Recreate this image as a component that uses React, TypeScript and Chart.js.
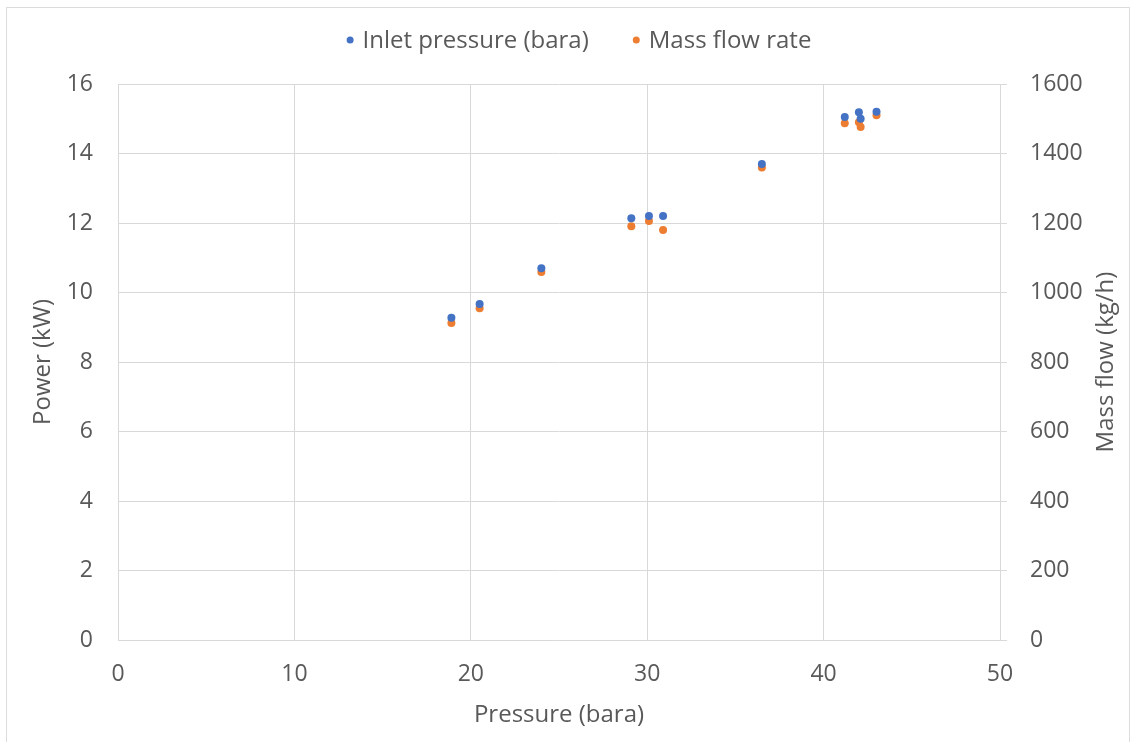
import React, { useEffect, useRef } from "react";
import { Chart, registerables } from "chart.js";

Chart.register(...registerables);

// Measured operating points
const pressureBara = [18.9, 20.5, 24.0, 29.1, 30.1, 30.9, 36.5, 41.2, 42.0, 42.1, 43.0];
const powerKw = [9.27, 9.67, 10.7, 12.14, 12.2, 12.2, 13.7, 15.05, 15.19, 15.0, 15.2];
const massFlowKgH = [912, 955, 1059, 1191, 1206, 1180, 1360, 1487, 1490, 1476, 1510];

const seriesLabels = ["Inlet pressure (bara)", "Mass flow rate"];
const seriesColors = ["#4472C4", "#ED7D31"];

const xRange = [0, 50, 10];
const powerRange = [0, 16, 2];
const massRange = [0, 1600, 200];

const xTitle = "Pressure (bara)";
const powerTitle = "Power (kW)";
const massTitle = "Mass flow (kg/h)";

const FONT = "'Open Sans'";
const TEXT = "#595959";
const GRID = "#d9d9d9";

// Legend row above the plot area, plus the right-hand axis title read bottom-to-top
const decorations = {
  id: "decorations",
  afterDraw(chart: any) {
    const ctx = chart.ctx as CanvasRenderingContext2D;
    ctx.save();
    ctx.font = `24px ${FONT}`;
    ctx.textBaseline = "middle";
    const r = 3.5;
    const gap = 9;
    const itemGap = 44;
    const items = chart.data.datasets.map((ds: any) => ({
      label: ds.label as string,
      color: ds.backgroundColor as string,
      w: ctx.measureText(ds.label).width,
    }));
    const total =
      items.reduce((s: number, it: any) => s + r * 2 + gap + it.w, 0) +
      itemGap * (items.length - 1);
    let x = 579 - total / 2;
    const y = 40;
    for (const it of items) {
      ctx.fillStyle = it.color;
      ctx.beginPath();
      ctx.arc(x + r, y, r, 0, Math.PI * 2);
      ctx.fill();
      ctx.fillStyle = TEXT;
      ctx.fillText(it.label, x + r * 2 + gap, y + 1);
      x += r * 2 + gap + it.w + itemGap;
    }

    const area = chart.chartArea;
    const right = chart.scales.y2;
    ctx.translate(right.right - 26, (area.top + area.bottom) / 2);
    ctx.rotate(-Math.PI / 2);
    ctx.textAlign = "center";
    ctx.fillStyle = TEXT;
    ctx.fillText(massTitle, 0, 0);
    ctx.restore();
  },
};

export default function App() {
  const ref = useRef<HTMLCanvasElement | null>(null);

  useEffect(() => {
    if (!ref.current) return;
    const toPoints = (ys: number[]) => pressureBara.map((x, i) => ({ x, y: ys[i] }));
    const tickFont = { family: FONT, size: 23 };
    const chart = new Chart(ref.current, {
      type: "scatter",
      data: {
        datasets: [
          {
            label: seriesLabels[0],
            data: toPoints(powerKw),
            yAxisID: "y",
            backgroundColor: seriesColors[0],
            borderColor: seriesColors[0],
            pointRadius: 4,
            pointBorderWidth: 0,
          },
          {
            label: seriesLabels[1],
            data: toPoints(massFlowKgH),
            yAxisID: "y2",
            backgroundColor: seriesColors[1],
            borderColor: seriesColors[1],
            pointRadius: 4,
            pointBorderWidth: 0,
          },
        ],
      },
      options: {
        responsive: false,
        animation: false,
        devicePixelRatio: 1,
        layout: { padding: { top: 84, left: 0, right: 0, bottom: 0 } },
        plugins: {
          legend: { display: false },
          tooltip: { enabled: false },
        },
        scales: {
          x: {
            type: "linear",
            min: xRange[0],
            max: xRange[1],
            ticks: { stepSize: xRange[2], color: TEXT, font: tickFont, padding: 21 },
            grid: { color: GRID, drawTicks: false },
            border: { color: GRID },
            title: {
              display: true,
              text: xTitle,
              color: TEXT,
              font: { family: FONT, size: 24 },
              padding: { top: 0, bottom: 12 },
            },
            afterFit(scale: any) {
              scale.height = 102;
            },
          },
          y: {
            type: "linear",
            position: "left",
            min: powerRange[0],
            max: powerRange[1],
            ticks: { stepSize: powerRange[2], color: TEXT, font: tickFont, padding: 25 },
            grid: { color: GRID, drawTicks: false },
            border: { color: GRID },
            title: {
              display: true,
              text: powerTitle,
              color: TEXT,
              font: { family: FONT, size: 24 },
              padding: { top: 29, bottom: 0 },
            },
            afterFit(scale: any) {
              scale.width = 118;
            },
          },
          y2: {
            type: "linear",
            position: "right",
            min: massRange[0],
            max: massRange[1],
            ticks: {
              stepSize: massRange[2],
              color: TEXT,
              font: tickFont,
              padding: 23,
              callback: (v: any) => String(v),
            },
            grid: { color: GRID, drawOnChartArea: false, drawTicks: true, tickLength: 7 },
            border: { color: GRID },
            title: { display: false },
            afterFit(scale: any) {
              scale.width = 132;
            },
          },
        },
      },
      plugins: [decorations],
    } as any);
    return () => chart.destroy();
  }, []);

  return (
    <div style={{ position: "fixed", left: 0, top: 0, width: 1132, height: 742, background: "#fff" }}>
      <canvas ref={ref} width={1132} height={742} style={{ display: "block" }} />
      <div
        style={{
          position: "absolute",
          left: 6,
          top: 7,
          width: 1124,
          height: 760,
          border: "1px solid #dcdcdc",
          boxSizing: "border-box",
          pointerEvents: "none",
        }}
      />
    </div>
  );
}
